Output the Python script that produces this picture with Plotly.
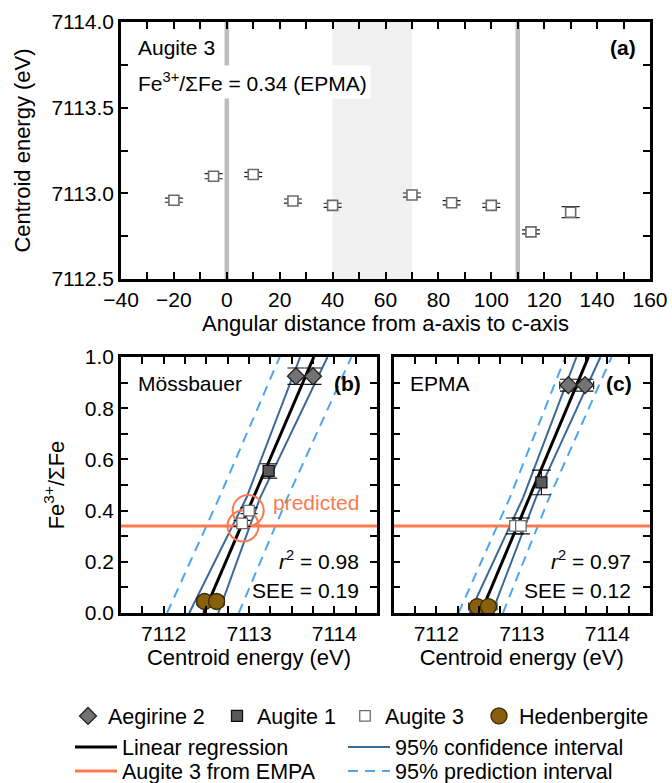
import plotly.graph_objects as go

FONT = "Arial"
FS = 21      # tick labels / in-panel notes
FT = 22      # axis titles
FL = 21.5    # legend

# ---------------- Panel (a): Augite 3 orientation series ----------------
angle = [-20, -5, 10, 25, 40, 70, 85, 100, 115, 130]
centroid_a = [7112.96, 7113.10, 7113.11, 7112.955, 7112.93, 7112.99, 7112.945, 7112.93, 7112.775, 7112.89]
centroid_a_err = [0.012, 0.015, 0.012, 0.012, 0.012, 0.012, 0.012, 0.012, 0.012, 0.032]
axis_marks = [0, 110]          # grey vertical lines (crystal axes)
shade_span = [40, 70]          # light grey band

# ---------------- Panel (b): Mössbauer ----------------
aeg_b_x = [7113.55, 7113.75]; aeg_b_y = [0.925, 0.925]; aeg_b_yerr = [0.032, 0.032]
aug1_b_x = [7113.23]; aug1_b_y = [0.555]; aug1_b_yerr = [0.028]
aug3_b_x = [7113.00, 7112.92]; aug3_b_y = [0.40, 0.35]; aug3_b_yerr = [0.012, 0.012]
hed_b_x = [7112.48, 7112.62]; hed_b_y = [0.045, 0.045]; hed_b_xerr = [0.09, 0.09]; hed_b_yerr = [0.02, 0.02]
pred_b_x = [7112.99, 7112.93]; pred_b_y = [0.40, 0.34]

# ---------------- Panel (c): EPMA ----------------
aeg_c_x = [7113.545, 7113.74]; aeg_c_y = [0.89, 0.89]; aeg_c_xerr = [0.10, 0.10]; aeg_c_yerr = [0.023, 0.023]
aug1_c_x = [7113.23]; aug1_c_y = [0.51]; aug1_c_yerr = [0.048]
aug3_c_x = [7112.92, 7112.99]; aug3_c_y = [0.34, 0.34]; aug3_c_yerr = [0.031, 0.031]
hed_c_x = [7112.48, 7112.61]; hed_c_y = [0.025, 0.025]; hed_c_xerr = [0.10, 0.10]; hed_c_yerr = [0.015, 0.015]

# regression / intervals, read as x positions at fixed Fe3+/SumFe levels
band_y = [0.0, 0.45, 1.0]
reg_b_x = [7112.47, 7113.05, 7113.76]
ci_b_lo = [7112.30, 7112.97, 7113.60]
ci_b_hi = [7112.64, 7113.13, 7113.92]
pi_b_lo = [7112.04, 7112.65, 7113.36]
pi_b_hi = [7112.88, 7113.45, 7114.20]

reg_c_x = [7112.52, 7113.09, 7113.78]
ci_c_lo = [7112.39, 7113.015, 7113.64]
ci_c_hi = [7112.65, 7113.165, 7113.92]
pi_c_lo = [7112.26, 7112.86, 7113.51]
pi_c_hi = [7112.78, 7113.32, 7114.05]

epma_level = [0.34, 0.34]
energy_range = [7111.5, 7114.5]

C_AEG = '#737373'; C_AUG1 = '#595959'; C_HED = '#86600c'
C_ORANGE = '#fb7a4f'; C_CI = '#3a6898'; C_PI = '#4ea6ee'

fig = go.Figure()

# ---- panel (a)
fig.add_trace(go.Scatter(
    x=angle, y=centroid_a, mode='markers', xaxis='x', yaxis='y', showlegend=False,
    marker=dict(symbol='square', size=10, color='white', line=dict(color='#6b6b6b', width=1.6)),
    error_y=dict(type='data', array=centroid_a_err, color='#222', thickness=1.2, width=9)))

def sep(a, b):
    return list(a) + [None] + list(b), list(band_y) + [None] + list(band_y)

for (xa, ya, reg, cilo, cihi, pilo, pihi, show) in [
        ('x2', 'y2', reg_b_x, ci_b_lo, ci_b_hi, pi_b_lo, pi_b_hi, True),
        ('x3', 'y3', reg_c_x, ci_c_lo, ci_c_hi, pi_c_lo, pi_c_hi, False)]:
    px, py = sep(pilo, pihi)
    fig.add_trace(go.Scatter(x=px, y=py, mode='lines', xaxis=xa, yaxis=ya,
                             line=dict(color=C_PI, width=2, dash='10px,7px'),
                             name='95% prediction interval', legend='legend8', showlegend=show))
    cx, cy = sep(cilo, cihi)
    fig.add_trace(go.Scatter(x=cx, y=cy, mode='lines', xaxis=xa, yaxis=ya,
                             line=dict(color=C_CI, width=2),
                             name='95% confidence interval', legend='legend7', showlegend=show))
    fig.add_trace(go.Scatter(x=reg, y=band_y, mode='lines', xaxis=xa, yaxis=ya,
                             line=dict(color='black', width=3),
                             name='Linear regression', legend='legend2', showlegend=show))
    fig.add_trace(go.Scatter(x=energy_range, y=epma_level, mode='lines', xaxis=xa, yaxis=ya,
                             line=dict(color=C_ORANGE, width=3),
                             name='Augite 3 from EMPA', legend='legend3', showlegend=show))

# predicted circles in (b)
fig.add_trace(go.Scatter(x=pred_b_x, y=pred_b_y, mode='markers', xaxis='x2', yaxis='y2', showlegend=False,
                         marker=dict(symbol='circle-open', size=31, color=C_ORANGE, line=dict(width=2))))

def markers(xa, ya, x, y, name, sym, size, fill, edge, show, yerr, xerr=None, capw=9, leg='legend'):
    kw = {}
    kw['error_y'] = dict(type='data', array=yerr, color='#111', thickness=1.2, width=capw)
    if xerr is not None:
        kw['error_x'] = dict(type='data', array=xerr, color='#111', thickness=1.2, width=4)
    fig.add_trace(go.Scatter(x=x, y=y, mode='markers', xaxis=xa, yaxis=ya, name=name,
                             legend=leg, showlegend=show,
                             marker=dict(symbol=sym, size=size, color=fill, line=dict(color=edge, width=1.3)),
                             **kw))

markers('x2', 'y2', aeg_b_x, aeg_b_y, 'Aegirine 2', 'diamond', 13, C_AEG, '#222', True, aeg_b_yerr, capw=8.5, leg='legend')
markers('x2', 'y2', aug1_b_x, aug1_b_y, 'Augite 1', 'square', 11, C_AUG1, '#111', True, aug1_b_yerr, capw=8.5, leg='legend4')
markers('x2', 'y2', aug3_b_x, aug3_b_y, 'Augite 3', 'square', 10.5, 'white', '#6b6b6b', True, aug3_b_yerr, capw=8.5, leg='legend5')
markers('x2', 'y2', hed_b_x, hed_b_y, 'Hedenbergite', 'circle', 16, C_HED, '#3a2a06', True, hed_b_yerr, hed_b_xerr, capw=7, leg='legend6')

markers('x3', 'y3', aeg_c_x, aeg_c_y, 'Aegirine 2', 'diamond', 13, C_AEG, '#222', False, aeg_c_yerr, aeg_c_xerr, capw=8.5)
markers('x3', 'y3', aug1_c_x, aug1_c_y, 'Augite 1', 'square', 11, C_AUG1, '#111', False, aug1_c_yerr, capw=9.5)
markers('x3', 'y3', aug3_c_x, aug3_c_y, 'Augite 3', 'square', 10.5, 'white', '#6b6b6b', False, aug3_c_yerr, capw=9)
markers('x3', 'y3', hed_c_x, hed_c_y, 'Hedenbergite', 'circle', 16, C_HED, '#3a2a06', False, hed_c_yerr, hed_c_xerr, capw=6)

W, H = 672, 783
def xd(a, b): return [a / W, b / W]
def yd(top, bot): return [1 - bot / H, 1 - top / H]

def axis(**kw):
    base = dict(showline=True, linecolor='black', linewidth=2.5, mirror='allticks',
                ticks='inside', ticklen=7, tickwidth=1.5, tickcolor='black',
                showgrid=False, zeroline=False, automargin=False,
                tickfont=dict(size=FS, color='black', family=FONT),
                title_font=dict(size=FT, color='black', family=FONT))
    base.update(kw)
    return base

minor_kw = lambda d: dict(ticks='inside', ticklen=7, tickwidth=1.5, tickcolor='black', dtick=d, showgrid=False)

def leg(x0, yc, **kw):
    d = dict(orientation='h', x=x0 / W, xanchor='left', y=1 - yc / H, yanchor='middle',
             font=dict(size=FL, family=FONT, color='black'), bgcolor='rgba(0,0,0,0)', traceorder='normal')
    d.update(kw)
    return d

fig.update_layout(
    width=W, height=H, margin=dict(l=0, r=0, t=0, b=0, autoexpand=False),
    paper_bgcolor='white', plot_bgcolor='white',
    font=dict(family=FONT, size=FS, color='black'),
    xaxis=axis(domain=xd(121, 650), anchor='y', range=[-40, 160], dtick=20, tick0=0,
               minor=minor_kw(10),
               title=dict(text='Angular distance from a-axis to c-axis', standoff=5)),
    yaxis=axis(domain=yd(22, 279), anchor='x', range=[7112.5, 7114.0], dtick=0.5, tick0=7112.5,
               tickformat='.1f', minor=minor_kw(0.25),
               title=dict(text='Centroid energy (eV)', standoff=15)),
    xaxis2=axis(domain=xd(121, 377), anchor='y2', range=energy_range, dtick=1, tick0=7112,
                minor=minor_kw(0.25), tickformat='d',
                title=dict(text='Centroid energy (eV)', standoff=5)),
    yaxis2=axis(domain=yd(357, 613), anchor='x2', range=[0, 1], dtick=0.2, tick0=0,
                tickformat='.1f', minor=minor_kw(0.1),
                title=dict(text='Fe<sup>3+</sup>/ΣFe', standoff=15)),
    xaxis3=axis(domain=xd(393.5, 650), anchor='y3', range=energy_range, dtick=1, tick0=7112,
                minor=minor_kw(0.25), tickformat='d',
                title=dict(text='Centroid energy (eV)', standoff=5)),
    yaxis3=axis(domain=yd(357, 613), anchor='x3', range=[0, 1], dtick=0.2, tick0=0,
                showticklabels=False, minor=minor_kw(0.1)),
    legend=leg(68, 716),
    legend4=leg(217, 716),
    legend5=leg(345, 716),
    legend6=leg(479, 716),
    legend2=leg(70, 747, itemwidth=42),
    legend7=leg(343, 747, itemwidth=42),
    legend3=leg(70, 771, itemwidth=42),
    legend8=leg(343, 771, itemwidth=42),
)

# shapes in panel (a)
fig.add_shape(type='rect', xref='x', yref='y domain', x0=shade_span[0], x1=shade_span[1], y0=0, y1=1,
              fillcolor='#f0f0f0', line=dict(width=0), layer='below')
for xv in axis_marks:
    fig.add_shape(type='line', xref='x', yref='y domain', x0=xv, x1=xv, y0=0, y1=1,
                  line=dict(color='#bdbdbd', width=4.5), layer='below')

def note(text, xref, yref, x, y, xanchor, color='black', bold=False, bg=None):
    fig.add_annotation(text=('<b>%s</b>' % text) if bold else text, xref=xref, yref=yref, x=x, y=y,
                       xanchor=xanchor, yanchor='middle', showarrow=False,
                       font=dict(size=FS, color=color, family=FONT),
                       bgcolor=bg, borderpad=3 if bg else 0)

note('Augite 3', 'x domain', 'y domain', 0.030, 0.899, 'left')
note('Fe<sup>3+</sup>/ΣFe = 0.34 (EPMA)', 'x domain', 'y domain', 0.024, 0.767, 'left', bg='white')
note('(a)', 'x domain', 'y domain', 0.975, 0.899, 'right', bold=True)

note('Mössbauer', 'x2 domain', 'y2 domain', 0.061, 0.897, 'left')
note('(b)', 'x2 domain', 'y2 domain', 0.94, 0.897, 'right', bold=True)
note('<i>r</i><sup>2</sup> = 0.98', 'x2 domain', 'y2 domain', 0.934, 0.207, 'right')
note('SEE = 0.19', 'x2 domain', 'y2 domain', 0.934, 0.087, 'right')
note('predicted', 'x2', 'y2', 7113.27, 0.43, 'left', color=C_ORANGE)

note('EPMA', 'x3 domain', 'y3 domain', 0.062, 0.897, 'left')
note('(c)', 'x3 domain', 'y3 domain', 0.935, 0.897, 'right', bold=True)
note('<i>r</i><sup>2</sup> = 0.97', 'x3 domain', 'y3 domain', 0.929, 0.207, 'right')
note('SEE = 0.12', 'x3 domain', 'y3 domain', 0.929, 0.087, 'right')

fig.write_html("out.html")
